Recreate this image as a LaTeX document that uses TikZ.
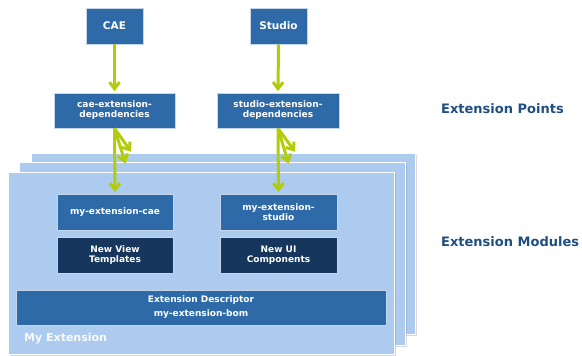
\documentclass[tikz,border=0pt]{standalone}
\usepackage{fontspec}
\setmainfont{DejaVu Sans}
\usetikzlibrary{arrows.meta,shadows}
\definecolor{boxblue}{RGB}{46,106,168}
\definecolor{boxdark}{RGB}{23,54,93}
\definecolor{boxedge}{RGB}{196,214,236}
\definecolor{pagefill}{RGB}{172,203,238}
\definecolor{linkgreen}{RGB}{178,204,10}
\definecolor{tiertext}{RGB}{31,78,128}
\begin{document}
\begin{tikzpicture}[x=1pt,y=-1pt,
  blk/.style={draw=boxedge, line width=0.8pt, fill=boxblue, text=white,
    font=\bfseries\fontsize{9}{10}\selectfont, align=center, inner sep=0pt,
    drop shadow={shadow xshift=1pt, shadow yshift=-1.2pt, opacity=0.35}},
  topblk/.style={blk, font=\bfseries\fontsize{10.5}{12}\selectfont},
  darkblk/.style={blk, fill=boxdark},
  page/.style={draw=white, line width=1pt, fill=pagefill,
    drop shadow={shadow xshift=1.5pt, shadow yshift=-1.5pt, opacity=0.3}},
  tier/.style={anchor=west, text=tiertext, font=\bfseries\fontsize{13}{15}\selectfont, inner sep=0pt},
  link/.style={draw=linkgreen, line width=3pt, shorten >=1.5pt,
    -{Straight Barb[length=6.5pt,width=10pt]}}
]
\useasboundingbox (0,0) rectangle (582,356);

% stacked extension pages
\path[page] (31,153) rectangle (415,334);
\path[page] (19,162) rectangle (405,345);
\path[page] (8,172) rectangle (394,354);

% platform boxes
\node[topblk, minimum width=57pt, minimum height=36pt] (cae) at (114.5,26) {CAE};
\node[topblk, minimum width=57pt, minimum height=36pt] (studio) at (278.5,26) {Studio};

% extension points
\node[blk, minimum width=121pt, minimum height=35pt] (caedep) at (114.5,110.5) {cae-extension-\\dependencies};
\node[blk, minimum width=122pt, minimum height=35pt] (studiodep) at (278,110.5) {studio-extension-\\dependencies};

% extension modules
\node[blk, minimum width=116pt, minimum height=36pt] (mecae) at (115,212) {my-extension-cae};
\node[blk, minimum width=117pt, minimum height=36pt] (mestudio) at (278.5,212) {my-extension-\\studio};
\node[darkblk, minimum width=116pt, minimum height=36pt] (nvt) at (115,255) {New View\\Templates};
\node[darkblk, minimum width=117pt, minimum height=36pt] (nui) at (278.5,255) {New UI\\Components};
\node[blk, minimum width=370pt, minimum height=35pt, font=\bfseries\fontsize{9}{14}\selectfont] (desc) at (201,307.5) {Extension Descriptor\\my-extension-bom};

\node[anchor=west, inner sep=0pt, text=white!92!pagefill, font=\bfseries\fontsize{11}{12}\selectfont] (myext) at (24,339) {My Extension};

% tier labels
\node[tier] (tpoints) at (441,109) {Extension Points};
\node[tier] (tmodules) at (441,242) {Extension Modules};

% dependency links
\coordinate (caeA) at (132,153);
\coordinate (caeB) at (126,165);
\coordinate (stA) at (296,153);
\coordinate (stB) at (289,165);

\draw[link] (cae.south) -- (caedep.north);
\draw[link] (studio.south) -- (studiodep.north);
\draw[link] (caedep.south) -- (caeA);
\draw[link] (caedep.south) -- (caeB);
\draw[link] (caedep.south) -- (mecae.north);
\draw[link] (studiodep.south) -- (stA);
\draw[link] (studiodep.south) -- (stB);
\draw[link] (studiodep.south) -- (mestudio.north);
\end{tikzpicture}
\end{document}
